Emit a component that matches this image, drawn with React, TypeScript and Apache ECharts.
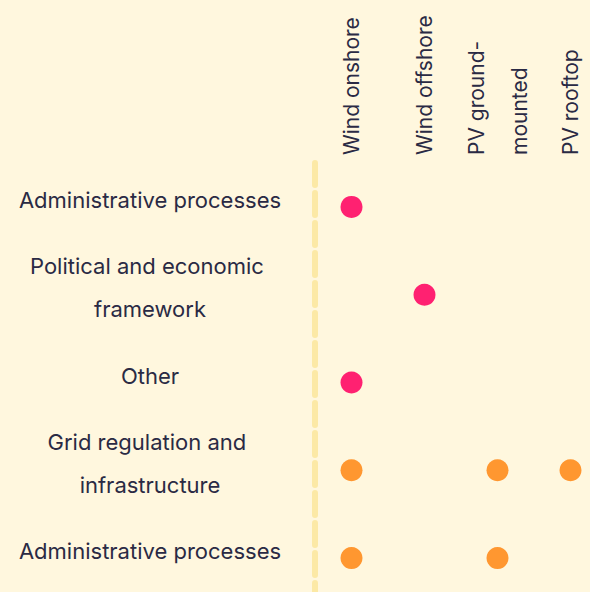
import React, { useEffect, useRef } from 'react';
import * as echarts from 'echarts';

const columns = ['Wind onshore', 'Wind offshore', 'PV ground-mounted', 'PV rooftop'];
const rows = [
  'Administrative processes',
  'Political and economic framework',
  'Other',
  'Grid regulation and infrastructure',
  'Administrative processes',
];
// [columnIndex, rowIndex]
const pinkPoints: [number, number][] = [[0, 0], [1, 1], [0, 2]];
const orangePoints: [number, number][] = [[0, 3], [2, 3], [3, 3], [0, 4], [2, 4]];

export default function App() {
  const ref = useRef<HTMLDivElement>(null);
  useEffect(() => {
    document.body.style.margin = '0';
    const chart = echarts.init(ref.current!, null, { renderer: 'svg' });
    const textColor = '#2a2a44';
    chart.setOption({
      animation: false,
      backgroundColor: '#fff7de',
      textStyle: { fontFamily: 'Inter' },
      grid: [
        { left: 315, top: 156, width: 292, height: 439 },
        { left: 315, top: 163, width: 292, height: 439 },
      ],
      xAxis: [
        { type: 'category', gridIndex: 0, data: columns, show: false },
        {
          type: 'category',
          gridIndex: 1,
          position: 'top',
          data: columns,
          axisLine: { show: false },
          axisTick: { show: false },
          splitLine: { show: false },
          axisLabel: {
            rotate: -90,
            margin: 8,
            fontSize: 21,
            color: textColor,
            lineHeight: 43,
            interval: 0,
            formatter: (v: string) => v.replace('ground-', 'ground-\n'),
          },
        },
      ],
      yAxis: [
        {
          type: 'category',
          gridIndex: 0,
          inverse: true,
          data: rows,
          axisLine: { show: false },
          axisTick: { show: false },
          splitLine: { show: false },
          axisLabel: {
            align: 'center',
            margin: 165,
            fontSize: 22,
            color: textColor,
            lineHeight: 43,
            width: 290,
            overflow: 'break',
            interval: 0,
          },
        },
        {
          type: 'category',
          gridIndex: 1,
          inverse: true,
          data: rows,
          axisLine: { show: true, lineStyle: { color: '#fce9a6', width: 6, type: [22, 8] } },
          axisTick: { show: false },
          axisLabel: { show: false },
          splitLine: { show: false },
        },
      ],
      series: [
        {
          type: 'scatter',
          xAxisIndex: 1,
          yAxisIndex: 1,
          data: pinkPoints,
          symbolSize: 22,
          itemStyle: { color: '#ff2171', opacity: 1 },
        },
        {
          type: 'scatter',
          xAxisIndex: 1,
          yAxisIndex: 1,
          data: orangePoints,
          symbolSize: 22,
          itemStyle: { color: '#ff9730', opacity: 1 },
        },
      ],
    });
    return () => chart.dispose();
  }, []);
  return (
    <div style={{ width: 590, height: 592, overflow: 'hidden' }}>
      <div ref={ref} style={{ width: 620, height: 640 }} />
    </div>
  );
}
